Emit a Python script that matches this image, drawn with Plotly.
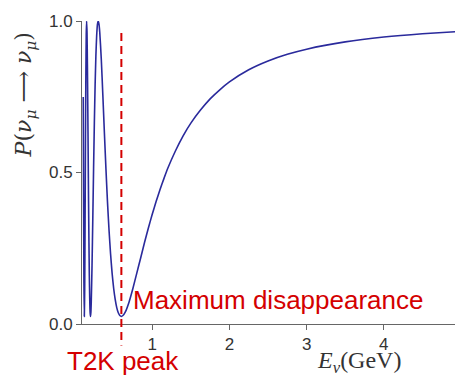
import plotly.graph_objects as go

# Neutrino energy (GeV) and survival probability
energy_gev = [0.106, 0.110, 0.115, 0.120, 0.125, 0.130, 0.135, 0.140, 0.145, 0.150,
              0.155, 0.160, 0.165, 0.170, 0.175, 0.180, 0.185, 0.190, 0.195, 0.200,
              0.205, 0.210, 0.220, 0.230, 0.240, 0.250, 0.260, 0.270, 0.280, 0.290,
              0.300, 0.310, 0.320, 0.340, 0.360, 0.380, 0.400, 0.420, 0.440, 0.460,
              0.480, 0.500, 0.520, 0.540, 0.560, 0.580, 0.600, 0.620, 0.650, 0.700,
              0.750, 0.800, 0.850, 0.900, 0.950, 1.000, 1.050, 1.100, 1.150, 1.200,
              1.300, 1.400, 1.500, 1.625, 1.750, 1.875, 2.000, 2.250, 2.500, 2.750,
              3.000, 3.500, 4.000, 4.500, 5.000]
survival_prob = [0.749, 0.443, 0.135, 0.025, 0.118, 0.340, 0.597, 0.816, 0.955, 1.000,
                 0.961, 0.857, 0.715, 0.558, 0.404, 0.269, 0.160, 0.084, 0.039, 0.025,
                 0.038, 0.073, 0.193, 0.349, 0.512, 0.663, 0.789, 0.886, 0.952, 0.989,
                 1.000, 0.990, 0.963, 0.873, 0.756, 0.632, 0.513, 0.404, 0.310, 0.232,
                 0.168, 0.118, 0.081, 0.054, 0.037, 0.028, 0.025, 0.028, 0.039, 0.073,
                 0.118, 0.168, 0.218, 0.269, 0.317, 0.362, 0.404, 0.443, 0.479, 0.513,
                 0.571, 0.621, 0.663, 0.706, 0.743, 0.773, 0.799, 0.839, 0.868, 0.890,
                 0.907, 0.931, 0.947, 0.958, 0.966]

x_ticks = [1, 2, 3, 4, 5]
x_tick_labels = ["1", "2", "3", "4", "5"]
y_ticks = [0.0, 0.5, 1.0]
y_tick_labels = ["0.0", "0.5", "1.0"]

t2k_peak_gev = 0.6

BLUE = "#2a2a9c"
RED = "#d40000"
AXIS = "#666666"

fig = go.Figure()
fig.add_trace(go.Scatter(x=energy_gev, y=survival_prob, mode="lines",
                         line=dict(color=BLUE, width=1.6, shape="spline", smoothing=0.5),
                         showlegend=False, hoverinfo="skip"))

fig.add_shape(type="line", xref="x", yref="paper",
              x0=t2k_peak_gev, x1=t2k_peak_gev, y0=0.96, y1=-0.071,
              line=dict(color=RED, width=2, dash="8px,5px"))

fig.add_annotation(text="Maximum disappearance", xref="x", yref="y",
                   x=0.73, y=0.078, xanchor="left", yanchor="middle",
                   showarrow=False,
                   font=dict(family="Liberation Sans, Arial", size=26, color=RED))
fig.add_annotation(text="T2K peak", xref="paper", yref="paper",
                   x=-0.045, y=-0.122, xanchor="left", yanchor="middle",
                   showarrow=False,
                   font=dict(family="Liberation Sans, Arial", size=26, color=RED))

fig.add_annotation(text="<i>E</i><sub><i>ν</i></sub>(GeV)", xref="paper", yref="paper",
                   x=0.732, y=-0.125, xanchor="center", yanchor="middle",
                   showarrow=False,
                   font=dict(family="Liberation Serif, DejaVu Serif", size=24, color="#333333"))
fig.add_annotation(text="<i>P</i>(<i>ν</i><sub><i>μ</i></sub> ⟶ <i>ν</i><sub><i>μ</i></sub>)",
                   xref="paper", yref="paper", textangle=-90,
                   x=-0.150, y=0.755, xanchor="center", yanchor="middle",
                   showarrow=False,
                   font=dict(family="DejaVu Serif, Liberation Serif", size=22, color="#333333"))

# the page body adds an 8px offset, so the figure is 8px smaller with matching margins
fig.update_layout(
    width=455, height=370,
    margin=dict(l=74, r=2, t=13, b=54),
    paper_bgcolor="white", plot_bgcolor="white",
    xaxis=dict(range=[0.09, 5.0], tickvals=x_ticks, ticktext=x_tick_labels,
               showline=True, linecolor=AXIS, linewidth=1, showgrid=False, zeroline=False,
               ticks="outside", ticklen=5, tickcolor=AXIS, automargin=False,
               ticklabeloverflow="allow",
               tickfont=dict(family="Liberation Sans, Arial", size=17, color="#333333")),
    yaxis=dict(range=[0.0, 1.0], tickvals=y_ticks, ticktext=y_tick_labels,
               showline=True, linecolor=AXIS, linewidth=1, showgrid=False, zeroline=False,
               ticks="outside", ticklen=5, tickcolor=AXIS, automargin=False,
               tickfont=dict(family="Liberation Sans, Arial", size=17, color="#333333")),
)

fig.write_html("out.html")
